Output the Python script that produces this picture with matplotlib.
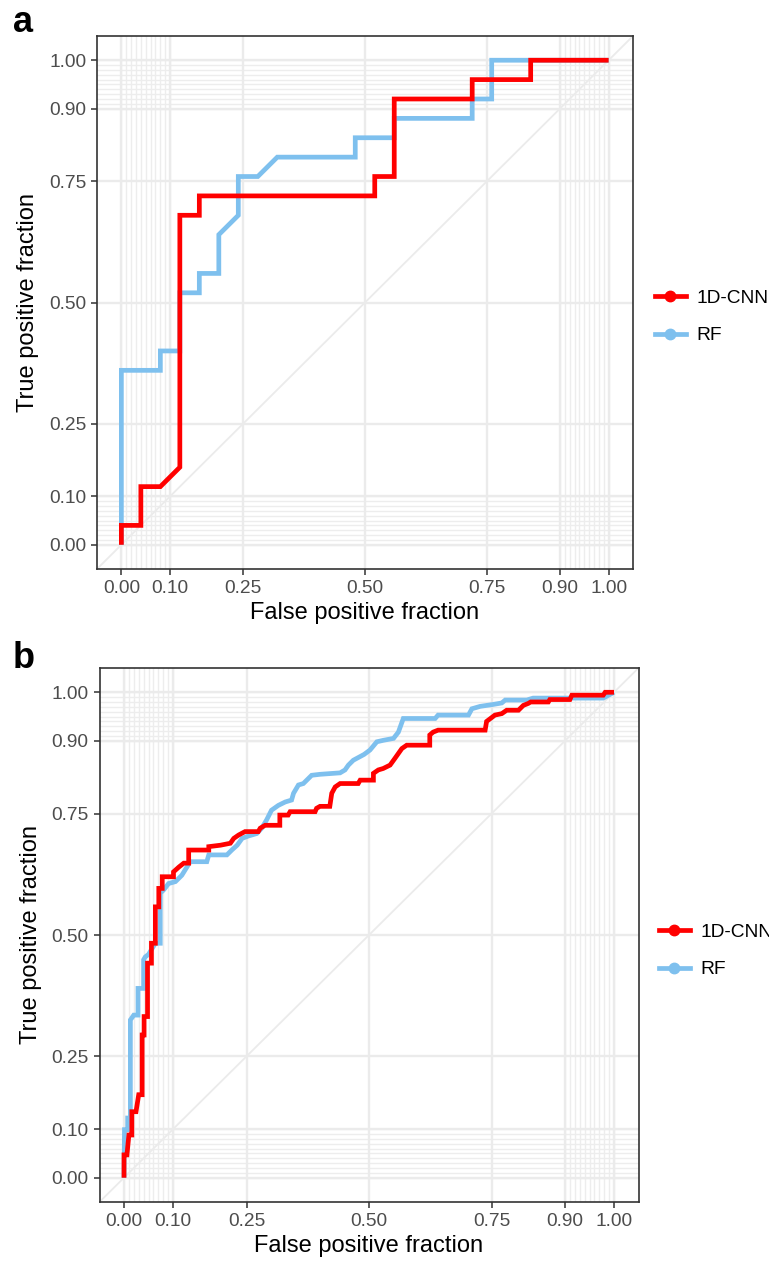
import matplotlib
matplotlib.use("Agg")
import matplotlib.pyplot as plt
from matplotlib.lines import Line2D
import numpy as np

plt.rcParams['font.family'] = ['Liberation Sans', 'DejaVu Sans']

# ---------------- data ----------------
# Panel a
a_cnn_fpf = [0, 0, 0.04, 0.04, 0.08, 0.12, 0.12, 0.16, 0.16, 0.52, 0.52, 0.56, 0.56, 0.72, 0.72, 0.84, 0.84, 1.0]
a_cnn_tpf = [0, 0.04, 0.04, 0.12, 0.12, 0.16, 0.68, 0.68, 0.72, 0.72, 0.76, 0.76, 0.92, 0.92, 0.96, 0.96, 1.0, 1.0]
a_rf_fpf = [0, 0, 0.08, 0.08, 0.12, 0.12, 0.16, 0.16, 0.20, 0.20, 0.24, 0.24, 0.28, 0.32, 0.48, 0.48, 0.56, 0.56, 0.72, 0.72, 0.76, 0.76, 1.0]
a_rf_tpf = [0, 0.36, 0.36, 0.40, 0.40, 0.52, 0.52, 0.56, 0.56, 0.64, 0.68, 0.76, 0.76, 0.80, 0.80, 0.84, 0.84, 0.88, 0.88, 0.92, 0.92, 1.0, 1.0]

# Panel b
b_cnn_fpf = [0, 0, 0.006, 0.010, 0.016, 0.016, 0.0245, 0.030, 0.037, 0.037, 0.041, 0.041, 0.048, 0.048,
             0.056, 0.056, 0.064, 0.064, 0.071, 0.071, 0.078, 0.078, 0.101, 0.101, 0.112, 0.122, 0.132, 0.132,
             0.173, 0.173, 0.197, 0.217, 0.224, 0.234, 0.247, 0.274, 0.278, 0.288, 0.318, 0.318, 0.335, 0.339,
             0.390, 0.393, 0.400, 0.420, 0.424, 0.431, 0.441, 0.478, 0.482, 0.509, 0.509, 0.519, 0.529, 0.543,
             0.553, 0.560, 0.567, 0.577, 0.624, 0.624, 0.631, 0.641, 0.737, 0.740, 0.757, 0.771, 0.781, 0.805,
             0.815, 0.825, 0.830, 0.866, 0.869, 0.910, 0.914, 0.978, 0.982, 1.0]
b_cnn_tpf = [0, 0.047, 0.047, 0.088, 0.088, 0.136, 0.136, 0.171, 0.171, 0.294, 0.294, 0.332, 0.332, 0.442,
             0.442, 0.483, 0.483, 0.558, 0.558, 0.596, 0.596, 0.620, 0.620, 0.630, 0.640, 0.648, 0.648, 0.675,
             0.675, 0.682, 0.685, 0.689, 0.699, 0.706, 0.713, 0.713, 0.720, 0.726, 0.726, 0.747, 0.747, 0.754,
             0.754, 0.761, 0.765, 0.765, 0.792, 0.805, 0.812, 0.812, 0.819, 0.819, 0.833, 0.840, 0.843, 0.850,
             0.864, 0.874, 0.884, 0.891, 0.891, 0.912, 0.918, 0.922, 0.922, 0.940, 0.953, 0.956, 0.963, 0.963,
             0.973, 0.977, 0.980, 0.980, 0.985, 0.985, 0.994, 0.994, 1.0, 1.0]
b_rf_fpf = [0, 0.001, 0.0075, 0.0075, 0.013, 0.013, 0.020, 0.0286, 0.0286, 0.040, 0.040, 0.0435, 0.050, 0.064,
            0.074, 0.074, 0.081, 0.091, 0.105, 0.118, 0.129, 0.135, 0.169, 0.173, 0.210, 0.220, 0.231, 0.241,
            0.254, 0.271, 0.281, 0.291, 0.301, 0.315, 0.329, 0.342, 0.346, 0.356, 0.366, 0.383, 0.400, 0.441,
            0.451, 0.458, 0.468, 0.490, 0.502, 0.516, 0.529, 0.550, 0.560, 0.570, 0.635, 0.641, 0.703, 0.710,
            0.727, 0.754, 0.771, 0.778, 0.822, 0.835, 0.978, 1.0]
b_rf_tpf = [0, 0.099, 0.099, 0.123, 0.123, 0.325, 0.335, 0.335, 0.390, 0.390, 0.449, 0.455, 0.460, 0.483,
            0.483, 0.586, 0.593, 0.606, 0.610, 0.623, 0.641, 0.651, 0.651, 0.665, 0.665, 0.675, 0.685, 0.699,
            0.704, 0.709, 0.720, 0.737, 0.757, 0.767, 0.774, 0.778, 0.792, 0.809, 0.812, 0.829, 0.831, 0.834,
            0.840, 0.850, 0.860, 0.872, 0.881, 0.898, 0.901, 0.905, 0.918, 0.946, 0.946, 0.953, 0.953, 0.966,
            0.971, 0.975, 0.978, 0.984, 0.984, 0.988, 0.988, 1.0]

series_names = ["1D-CNN", "RF"]
series_colors = ["#FF0000", "#7EC0EE"]

major_breaks = [0, 0.1, 0.25, 0.5, 0.75, 0.9, 1.0]
major_labels = ["0.00", "0.10", "0.25", "0.50", "0.75", "0.90", "1.00"]
minor_breaks = list(np.round(np.arange(0, 0.101, 0.01), 2)) + list(np.round(np.arange(0.9, 1.001, 0.01), 2))

# ---------------- figure ----------------
W, H = 769, 1262
fig = plt.figure(figsize=(W / 100, H / 100), dpi=100)

def px_axes(left, top, right, bottom):
    return [left / W, 1 - bottom / H, (right - left) / W, (bottom - top) / H]

GRID = "#EBEBEB"
DARK = "#333333"
LW = 3.4

def style(ax):
    ax.set_xlim(-0.05, 1.05)
    ax.set_ylim(-0.05, 1.05)
    for v in minor_breaks:
        ax.axvline(v, color="#EDEDED", lw=1.0, zorder=0)
        ax.axhline(v, color="#EDEDED", lw=1.0, zorder=0)
    for v in major_breaks:
        ax.axvline(v, color=GRID, lw=1.7, zorder=0.5)
        ax.axhline(v, color=GRID, lw=1.7, zorder=0.5)
    ax.axline((0, 0), slope=1, color=GRID, lw=1.3, zorder=0.6)
    ax.set_xticks(major_breaks)
    ax.set_xticklabels(major_labels)
    ax.set_yticks(major_breaks)
    ax.set_yticklabels(major_labels)
    ax.tick_params(axis="both", which="major", length=4.3, width=1.1, color=DARK,
                   labelsize=13.8, labelcolor="#4D4D4D", pad=3.5)
    for s in ax.spines.values():
        s.set_color(DARK)
        s.set_linewidth(1.2)
        s.set_zorder(5)
    ax.set_xlabel("False positive fraction", fontsize=17, color="black", labelpad=4)
    ax.set_ylabel("True positive fraction", fontsize=17, color="black", labelpad=7)

def draw_panel(ax, cnn_x, cnn_y, rf_x, rf_y, legend_anchor):
    style(ax)
    ax.plot(rf_x, rf_y, color=series_colors[1], lw=LW, zorder=3, solid_joinstyle="miter",
            solid_capstyle="butt")
    ax.plot(cnn_x, cnn_y, color=series_colors[0], lw=LW, zorder=4, solid_joinstyle="miter",
            solid_capstyle="butt")
    handles = [Line2D([], [], color=c, lw=LW, marker="o", markersize=7.5) for c in series_colors]
    ax.legend(handles, series_names, loc="center left", bbox_to_anchor=legend_anchor,
              bbox_transform=fig.transFigure, frameon=False, fontsize=13.8,
              handlelength=1.6, handletextpad=0.55, labelspacing=1.05, numpoints=1,
              borderpad=0, borderaxespad=0)

ax_a = fig.add_axes(px_axes(97, 36, 633, 569))
draw_panel(ax_a, a_cnn_fpf, a_cnn_tpf, a_rf_fpf, a_rf_tpf, (655 / W, 1 - 317 / H))

ax_b = fig.add_axes(px_axes(99.5, 668, 638.5, 1202))
draw_panel(ax_b, b_cnn_fpf, b_cnn_tpf, b_rf_fpf, b_rf_tpf, (659 / W, 1 - 951 / H))

fig.text(13 / W, 1 - 32 / H, "a", fontsize=26, fontweight="bold", ha="left", va="baseline")
fig.text(13 / W, 1 - 668 / H, "b", fontsize=26, fontweight="bold", ha="left", va="baseline")

fig.savefig("out.png", dpi=100)
